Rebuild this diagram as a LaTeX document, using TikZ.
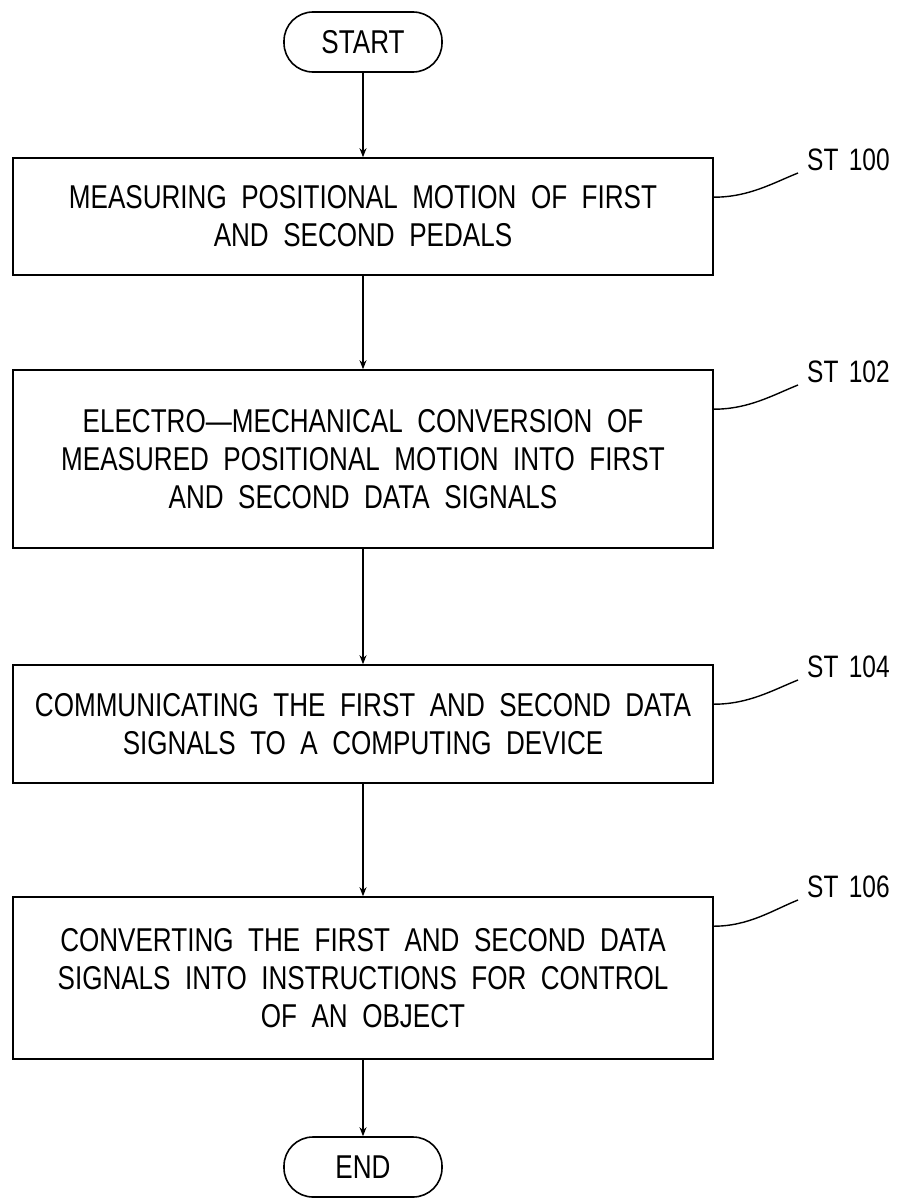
\documentclass[tikz,border=0pt]{standalone}
\usepackage{fontspec}
\setmainfont{Liberation Sans}[FakeStretch=0.79, WordSpace=2]
\usetikzlibrary{arrows.meta}
\begin{document}
\begin{tikzpicture}[x=1pt,y=-1pt,
  every node/.style={font=\fontsize{33}{38}\selectfont},
  stepbox/.style={draw, line width=1.6pt, minimum width=700pt, align=center, inner sep=0pt},
  term/.style={draw, line width=1.6pt, rounded corners=29pt, minimum width=158pt, minimum height=60pt},
  conn/.style={line width=1.4pt, -{Stealth[length=9pt,width=7pt]}},
  lead/.style={line width=1.4pt},
  lab/.style={anchor=west, inner sep=0pt, font=\fontsize{31}{34}\selectfont}]
\fill[white] (0,0) rectangle (909,1199);
\useasboundingbox (0,0) rectangle (909,1199);
\node[term] (start) at (363,42) {START};
\node[stepbox, minimum height=117pt] (b1) at (363,216.5) {MEASURING POSITIONAL MOTION OF FIRST\\AND SECOND PEDALS};
\node[stepbox, minimum height=178pt] (b2) at (363,459) {ELECTRO---MECHANICAL CONVERSION OF\\MEASURED POSITIONAL MOTION INTO FIRST\\AND SECOND DATA SIGNALS};
\node[stepbox, minimum height=118pt] (b3) at (363,724) {COMMUNICATING THE FIRST AND SECOND DATA\\SIGNALS TO A COMPUTING DEVICE};
\node[stepbox, minimum height=162pt] (b4) at (363,978) {CONVERTING THE FIRST AND SECOND DATA\\SIGNALS INTO INSTRUCTIONS FOR CONTROL\\OF AN OBJECT};
\node[term] (end) at (363,1167) {END};
\draw[conn] (start) -- (b1);
\draw[conn] (b1) -- (b2);
\draw[conn] (b2) -- (b3);
\draw[conn] (b3) -- (b4);
\draw[conn] (b4) -- (end);
\node[lab] (l1) at (807,160) {ST\,\,100};
\node[lab] (l2) at (807,372) {ST\,\,102};
\node[lab] (l3) at (807,667) {ST\,\,104};
\node[lab] (l4) at (807,887) {ST\,\,106};
\coordinate (e1) at (798,173);
\coordinate (e2) at (798,385);
\coordinate (e3) at (798,680);
\coordinate (e4) at (798,900);
\draw[lead] (b1.north east) ++(0,40) .. controls +(35,0) and +(-25,10) .. (e1);
\draw[lead] (b2.north east) ++(0,40) .. controls +(35,0) and +(-25,10) .. (e2);
\draw[lead] (b3.north east) ++(0,40) .. controls +(35,0) and +(-25,10) .. (e3);
\draw[lead] (b4.north east) ++(0,30) .. controls +(35,0) and +(-25,10) .. (e4);
\end{tikzpicture}
\end{document}
